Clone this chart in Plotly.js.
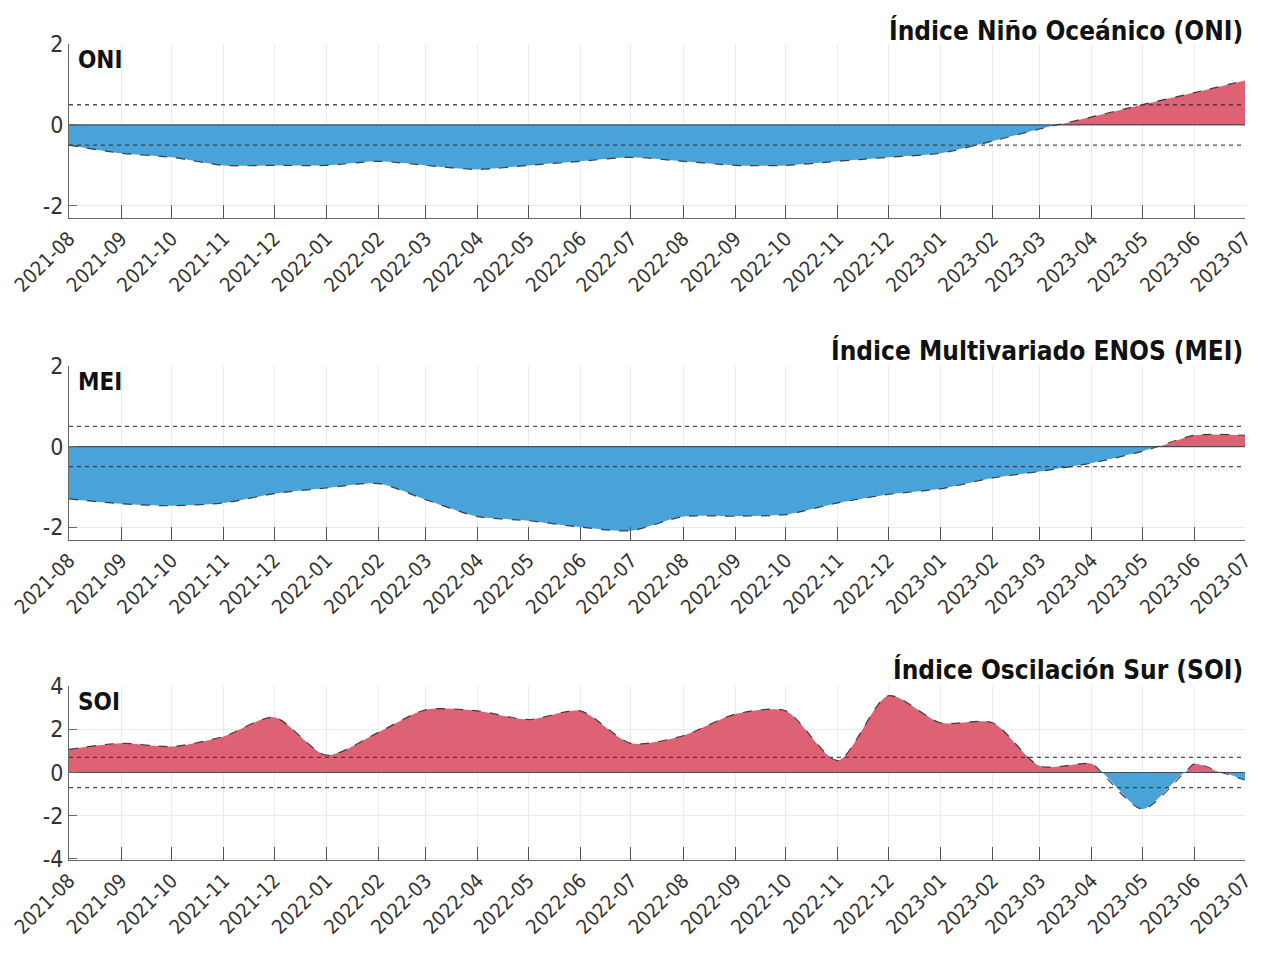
<!DOCTYPE html>
<html>
<head>
<meta charset="utf-8">
<script src="https://cdn.plot.ly/plotly-3.0.1.min.js"></script>
<style>html,body{margin:0;padding:0;background:#fff;}#chart{width:1268px;height:968px;}</style>
</head>
<body>
<div id="chart"></div>
<script>
// ---- Data ----
const months = ['2021-08','2021-09','2021-10','2021-11','2021-12','2022-01','2022-02','2022-03','2022-04','2022-05','2022-06','2022-07','2022-08','2022-09','2022-10','2022-11','2022-12','2023-01','2023-02','2023-03','2023-04','2023-05','2023-06','2023-07'];
const oniValues = [-0.5,-0.7,-0.8,-1.0,-1.0,-1.0,-0.9,-1.0,-1.1,-1.0,-0.9,-0.8,-0.9,-1.0,-1.0,-0.9,-0.8,-0.7,-0.4,-0.1,0.2,0.5,0.8,1.1];
const meiValues = [-1.3,-1.42,-1.47,-1.4,-1.17,-1.03,-0.92,-1.32,-1.74,-1.84,-2.0,-2.09,-1.74,-1.73,-1.69,-1.4,-1.19,-1.05,-0.78,-0.62,-0.41,-0.12,0.28,0.28];
const soiValues = [1.07,1.35,1.2,1.67,2.55,0.8,1.86,2.9,2.85,2.45,2.85,1.35,1.7,2.7,2.85,0.55,3.55,2.3,2.3,0.3,0.4,-1.7,0.4,-0.35];
const titles = ['Índice Niño Oceánico (ONI)','Índice Multivariado ENOS (MEI)','Índice Oscilación Sur (SOI)'];
const shortNames = ['ONI','MEI','SOI'];
const thresholds = [[0.5,-0.5],[0.5,-0.5],[0.7,-0.7]];

// ---- Styling ----
const BLUE = '#4aa3d8', RED = '#dd6273';
const FONT = '"DejaVu Sans Condensed","DejaVu Sans","Liberation Sans Narrow",sans-serif';
const dates = months.map(m => m + '-01');

function splitSeries(vals) {
  // add zero-crossing points so positive/negative fills meet at zero
  const xs = [], ys = [];
  for (let i = 0; i < vals.length; i++) {
    xs.push(new Date(dates[i] + 'T00:00:00Z').getTime());
    ys.push(vals[i]);
    if (i < vals.length - 1 && vals[i] * vals[i + 1] < 0) {
      const t0 = new Date(dates[i] + 'T00:00:00Z').getTime();
      const t1 = new Date(dates[i + 1] + 'T00:00:00Z').getTime();
      const f = vals[i] / (vals[i] - vals[i + 1]);
      xs.push(t0 + f * (t1 - t0));
      ys.push(0);
    }
  }
  const xIso = xs.map(t => new Date(t).toISOString().slice(0, 19).replace('T', ' '));
  return {x: xIso, pos: ys.map(v => v > 0 ? v : 0), neg: ys.map(v => v < 0 ? v : 0), all: ys};
}

const series = [oniValues, meiValues, soiValues];
const traces = [];
const ranges = [[-2.3, 2], [-2.32, 2], [-4.05, 4]];
const tickSets = [[-2, 0, 2], [-2, 0, 2], [-4, -2, 0, 2, 4]];
const domains = [[0.7868, 1.0], [0.3922, 0.6054], [0.0, 0.2132]];
const sm = 0.75;

series.forEach((vals, k) => {
  const s = splitSeries(vals);
  const xa = k === 0 ? 'x' : 'x' + (k + 1);
  const ya = k === 0 ? 'y' : 'y' + (k + 1);
  traces.push({x: s.x, y: s.neg, xaxis: xa, yaxis: ya, type: 'scatter', mode: 'lines',
    line: {shape: 'spline', smoothing: sm, width: 0, color: BLUE}, fill: 'tozeroy', fillcolor: BLUE, hoverinfo: 'skip'});
  traces.push({x: s.x, y: s.pos, xaxis: xa, yaxis: ya, type: 'scatter', mode: 'lines',
    line: {shape: 'spline', smoothing: sm, width: 0, color: RED}, fill: 'tozeroy', fillcolor: RED, hoverinfo: 'skip'});
  traces.push({x: s.x, y: s.all, xaxis: xa, yaxis: ya, type: 'scatter', mode: 'lines',
    line: {shape: 'spline', smoothing: sm, width: 1.2, color: 'rgba(40,40,40,0.85)', dash: 'dash'}, hoverinfo: 'skip'});
  thresholds[k].forEach(th => {
    traces.push({x: [dates[0], dates[dates.length - 1]], y: [th, th], xaxis: xa, yaxis: ya, type: 'scatter', mode: 'lines',
      line: {width: 1.4, color: 'rgba(55,55,65,0.9)', dash: '4px,4px'}, hoverinfo: 'skip'});
  });
  traces.push({x: [dates[0], dates[dates.length - 1]], y: [0, 0], xaxis: xa, yaxis: ya, type: 'scatter', mode: 'lines',
    line: {width: 1.2, color: 'rgba(40,50,70,0.8)'}, hoverinfo: 'skip'});
});

const layout = {
  width: 1268, height: 968,
  margin: {l: 69, r: 23, t: 44, b: 108},
  paper_bgcolor: '#ffffff', plot_bgcolor: '#ffffff',
  showlegend: false,
  font: {family: FONT, color: '#333', size: 20},
  annotations: []
};

for (let k = 0; k < 3; k++) {
  const xk = k === 0 ? 'xaxis' : 'xaxis' + (k + 1);
  const yk = k === 0 ? 'yaxis' : 'yaxis' + (k + 1);
  const yref = k === 0 ? 'y' : 'y' + (k + 1);
  const xref = k === 0 ? 'x' : 'x' + (k + 1);
  layout[xk] = {
    type: 'date', anchor: yref, range: [dates[0], dates[dates.length - 1]],
    tickmode: 'array', tickvals: dates, ticktext: months, tickangle: -45,
    ticks: 'inside', ticklen: 13, tickcolor: '#555', tickwidth: 1,
    showgrid: true, gridcolor: '#ebebeb', gridwidth: 1,
    showline: true, linecolor: '#666', linewidth: 1, mirror: false,
    zeroline: false, tickfont: {family: FONT, size: 20, color: '#333'}, fixedrange: true
  };
  layout[yk] = {
    domain: domains[k], anchor: xref, range: ranges[k],
    tickmode: 'array', tickvals: tickSets[k], ticktext: tickSets[k].map(String),
    ticks: 'inside', ticklen: 8, tickcolor: '#666',
    showgrid: true, gridcolor: '#ebebeb', zeroline: false,
    showline: true, linecolor: '#666', linewidth: 1,
    tickfont: {family: FONT, size: 23, color: '#333'}, fixedrange: true
  };
}

const titleY = [1.017, 0.625, 0.233];
const nameY = [0.980, 0.586, 0.1936];
for (let k = 0; k < 3; k++) {
  layout.annotations.push({text: '<b>' + titles[k] + '</b>', xref: 'paper', yref: 'paper', x: 1, y: titleY[k],
    xanchor: 'right', yanchor: 'middle', showarrow: false, font: {family: FONT, size: 26, color: '#111'}});
  layout.annotations.push({text: '<b>' + shortNames[k] + '</b>', xref: 'paper', yref: 'paper', x: 0, y: nameY[k],
    xshift: 7, xanchor: 'left', yanchor: 'middle', showarrow: false, font: {family: FONT, size: 24, color: '#111'}});
}

Plotly.newPlot('chart', traces, layout, {displayModeBar: false, staticPlot: true});
</script>
</body>
</html>
